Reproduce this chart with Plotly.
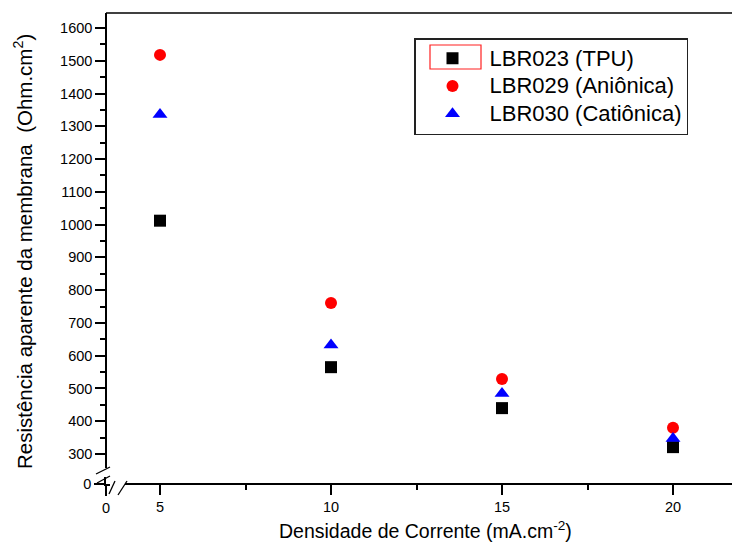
import plotly.graph_objects as go

# ---- data ----
corrente = [5, 10, 15, 20]                      # mA.cm^-2
lbr023_tpu = [1012, 565, 440, 321]
lbr029_anionica = [1518, 761, 529, 380]
lbr030_cationica = [1336, 633, 485, 347]

series_names = ["LBR023 (TPU)", "LBR029 (Aniônica)", "LBR030 (Catiônica)"]
series_values = [lbr023_tpu, lbr029_anionica, lbr030_cationica]
series_colors = ["#000000", "#ff0000", "#0000ff"]
series_symbols = ["square", "circle", "triangle-up"]
series_sizes = [12, 12, 13]

x_title = "Densidade de Corrente (mA.cm<sup>-2</sup>)"
y_title = "Resistência aparente da membrana  (Ohm.cm<sup>2</sup>)"

# ---- geometry ----
W, H = 732, 546
ML, MR, MT, MB = 106, 0, 13, 62
PW, PH = W - ML - MR, H - MT - MB


def px(x):
    return (x - ML) / PW


def py(y):
    return (H - MB - y) / PH


FONT = "Arial, Liberation Sans, sans-serif"
tickfont = dict(family=FONT, size=14.5, color="#000000")

fig = go.Figure()
for name, vals, col, sym, sz in zip(series_names, series_values, series_colors,
                                    series_symbols, series_sizes):
    fig.add_trace(go.Scatter(
        x=corrente, y=vals, mode="markers",
        name='<span style="font-size:22px">%s</span>' % name,
        legendgroup=name,
        marker=dict(color=col, symbol=sym, size=sz, line=dict(width=0)),
        xaxis="x", yaxis="y",
    ))

# empty trace so the short broken-axis segments (0 ticks) are drawn
fig.add_trace(go.Scatter(x=[], y=[], xaxis="x2", yaxis="y2",
                         showlegend=False, hoverinfo="skip"))

axis_common = dict(
    showline=True, linecolor="#000000", linewidth=1.5,
    ticks="outside", ticklen=10, tickwidth=1.5, tickcolor="#000000",
    showgrid=False, zeroline=False, tickfont=tickfont, automargin=False,
)

fig.update_layout(
    width=W, height=H,
    margin=dict(l=ML, r=MR, t=MT, b=MB, pad=0, autoexpand=False),
    paper_bgcolor="white", plot_bgcolor="white",
    font=dict(family=FONT, color="#000000"),
    xaxis=dict(
        domain=[px(125), 1], range=[3.9766, 21.725],
        anchor="free", position=0,
        tick0=0, dtick=5,
        minor=dict(ticks="outside", ticklen=5, tickwidth=1.5, tickcolor="#000000",
                   tick0=0, dtick=2.5, showgrid=False),
        **axis_common,
    ),
    yaxis=dict(
        domain=[py(468), 1], range=[257.3, 1645.8],
        anchor="free", position=0,
        tick0=0, dtick=100,
        minor=dict(ticks="outside", ticklen=5, tickwidth=1.5, tickcolor="#000000",
                   tick0=0, dtick=50, showgrid=False),
        **axis_common,
    ),
    xaxis2=dict(
        domain=[0, px(110)], range=[0, 1], anchor="y2",
        tickmode="array", tickvals=[0], ticktext=["0"],
        **axis_common,
    ),
    yaxis2=dict(
        domain=[0, py(477)], range=[0, 20], anchor="x2",
        tickmode="array", tickvals=[0], ticktext=["0"],
        **axis_common,
    ),
    showlegend=True,
    legend=dict(
        x=px(414), y=py(38), xanchor="left", yanchor="top",
        bgcolor="rgba(255,255,255,0)", bordercolor="#222222", borderwidth=1.5,
        font=dict(family=FONT, size=19, color="#000000"),
        tracegroupgap=0, itemwidth=64,
    ),
)

# frame top line
fig.add_shape(type="line", xref="paper", yref="paper", x0=0, x1=1, y0=1, y1=1,
              line=dict(color="#000000", width=1.5))

# axis break marks
breaks = [((96, 474), (110, 467)), ((97, 483), (110, 476)),
          ((109, 494), (115, 481)), ((118, 495), (127, 481))]
for (xa, ya), (xb, yb) in breaks:
    fig.add_shape(type="line", xref="paper", yref="paper",
                  x0=px(xa), y0=py(ya), x1=px(xb), y1=py(yb),
                  line=dict(color="#000000", width=1.3))

# red selection box around first legend symbol
fig.add_shape(type="rect", xref="paper", yref="paper",
              x0=px(430), y0=py(45), x1=px(481), y1=py(69),
              line=dict(color="#ff2020", width=1.2))

# axis titles
fig.add_annotation(text=x_title, xref="paper", yref="paper",
                   x=px(425), y=py(530), xanchor="center", yanchor="middle",
                   showarrow=False,
                   font=dict(family=FONT, size=19.5, color="#000000"))
fig.add_annotation(text=y_title, xref="paper", yref="paper",
                   x=px(23), y=py(252), xanchor="center", yanchor="middle",
                   textangle=-90, showarrow=False,
                   font=dict(family=FONT, size=20.5, color="#000000"))

fig.write_html("out.html")
